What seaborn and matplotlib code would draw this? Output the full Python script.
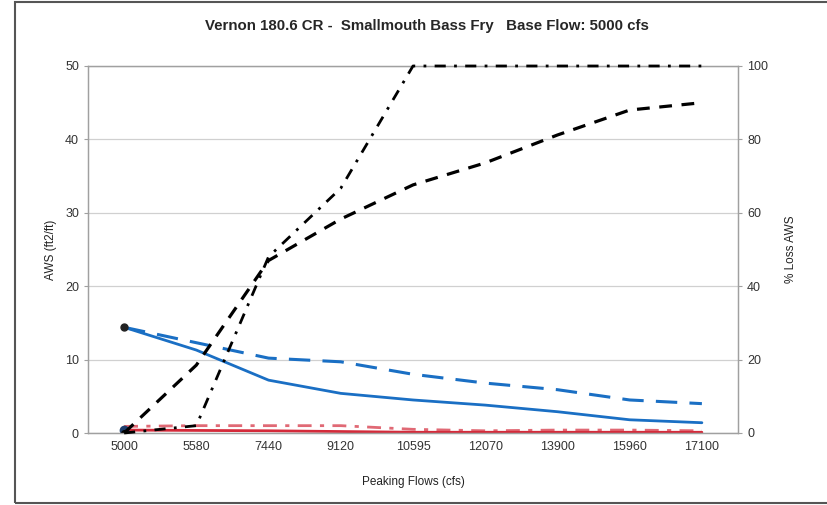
import numpy as np
import pandas as pd
import matplotlib
matplotlib.use("Agg")
import matplotlib.pyplot as plt
import seaborn as sns
from matplotlib.patches import Rectangle

# peaking flows (categories on the x axis)
flows = ["5000", "5580", "7440", "9120", "10595", "12070", "13900", "15960", "17100"]

# AWS (ft2/ft), left axis
aws_solid = [14.4, 11.3, 7.2, 5.4, 4.5, 3.8, 2.9, 1.8, 1.4]
aws_dashed = [14.4, 12.3, 10.2, 9.7, 8.0, 6.8, 5.9, 4.5, 4.0]
red_solid = [0.4, 0.35, 0.3, 0.2, 0.1, 0.1, 0.1, 0.1, 0.1]
red_dashdot = [0.9, 1.0, 1.0, 1.0, 0.5, 0.3, 0.4, 0.4, 0.3]

# % loss AWS, right axis
loss_dashed = [0.0, 18.5, 47.0, 58.3, 67.6, 73.6, 81.2, 88.0, 90.0]
loss_dashdot = [0.0, 2.0, 48.0, 66.7, 100.0, 100.0, 100.0, 100.0, 100.0]

sns.set_style("white")
plt.rcParams["font.family"] = ["Liberation Sans", "DejaVu Sans"]

fig = plt.figure(figsize=(8.28, 5.05), dpi=100)
ax = fig.add_axes([88 / 828, 1 - 433 / 505, 650 / 828, 367 / 505])
ax2 = ax.twinx()

df = pd.DataFrame({"pos": np.arange(len(flows))})

blue = "#1a6fc4"
red = "#d42a3a"

sns.lineplot(x=df["pos"], y=red_solid, ax=ax, color=red, lw=2.0)
l0 = sns.lineplot(x=df["pos"], y=red_dashdot, ax=ax, color=red, lw=2.0, alpha=0.7).lines[-1]
l0.set_dashes([5, 3, 1.5, 3])
sns.lineplot(x=df["pos"], y=aws_solid, ax=ax, color=blue, lw=2.0)
l = sns.lineplot(x=df["pos"], y=aws_dashed, ax=ax, color=blue, lw=2.2).lines[-1]
l.set_dashes([7, 4])
ax.plot(df["pos"][:1], aws_solid[:1], "o", color="#222222", ms=5)
ax.plot(df["pos"][:1], red_solid[:1], "o", color="#1f3f6e", ms=6)

l1 = sns.lineplot(x=df["pos"], y=loss_dashed, ax=ax2, color="black", lw=2.3).lines[-1]
l1.set_dashes([4, 3])
l2 = sns.lineplot(x=df["pos"], y=loss_dashdot, ax=ax2, color="black", lw=2.0).lines[-1]
l2.set_dashes([4, 3, 1, 3])
l2.set_clip_on(False)
l2.set_zorder(5)
ax2.plot(df["pos"][:1], loss_dashdot[:1], "o", color="black", ms=4)

ax.set_xlim(-0.5, len(flows) - 0.5)
ax.set_ylim(0, 50)
ax2.set_ylim(0, 100)
ax.set_yticks(range(0, 51, 10))
ax2.set_yticks(range(0, 101, 20))
ax.set_xticks(df["pos"])
ax.set_xticklabels(flows)

ax.grid(axis="y", color="#d0d0d0", lw=0.9)
ax.set_axisbelow(True)
for a in (ax, ax2):
    for s in a.spines.values():
        s.set_color("#a0a0a0")
        s.set_linewidth(0.9)
    a.tick_params(labelsize=9, colors="#333333", length=3, width=0.8, color="#a0a0a0")
ax.tick_params(axis="x", length=0, pad=6)

ax.set_xlabel("Peaking Flows (cfs)", fontsize=8.5, color="#222222", labelpad=16)
ax.set_ylabel("AWS (ft2/ft)", fontsize=8.5, color="#222222", labelpad=6)
ax2.set_ylabel("% Loss AWS", fontsize=8.5, color="#222222", labelpad=12)
ax.set_title("Vernon 180.6 CR -  Smallmouth Bass Fry   Base Flow: 5000 cfs",
             fontsize=10.8, fontweight="bold", pad=26, x=0.522)

fig.patches.append(Rectangle((15 / 828, 2 / 505), 1.0, 501 / 505, transform=fig.transFigure,
                             fill=False, edgecolor="#555555", lw=1.5))

fig.savefig("out.png", dpi=100)
